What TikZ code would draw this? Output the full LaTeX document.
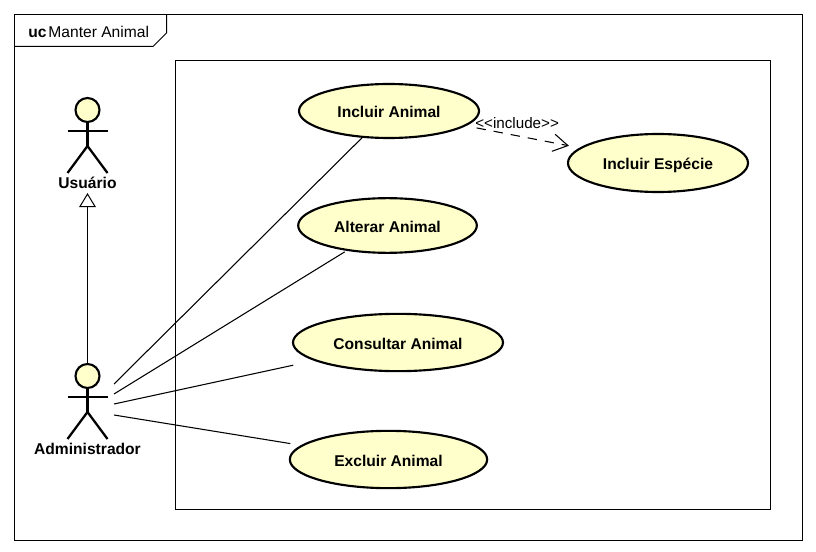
\documentclass[tikz,border=0pt]{standalone}
\usepackage{fontspec}
\setmainfont{Liberation Sans}
\usetikzlibrary{arrows.meta,shapes.geometric}
\definecolor{ucfill}{RGB}{255,255,204}
\begin{document}
\begin{tikzpicture}[
        x=0.75pt, y=-0.75pt,
        frame/.style={draw, line width=0.75pt},
        usecase/.style={draw, ellipse, fill=ucfill, line width=1.6pt, inner sep=0pt,
                        text height=10.5pt, text depth=0pt,
                        font=\bfseries\fontsize{11.7}{13}\selectfont},
        actorhead/.style={draw, circle, fill=ucfill, line width=1.6pt, inner sep=0pt, minimum size=18pt},
        actorlabel/.style={font=\bfseries\fontsize{11.7}{13}\selectfont, inner sep=0pt},
        assoc/.style={line width=0.8pt},
        incl/.style={-{Straight Barb[length=11pt, width=13pt]}, dash pattern=on 7pt off 6pt, line width=0.8pt},
        gen/.style={-{Triangle[open, length=10.5pt, width=12.5pt]}, line width=0.75pt},
        actor/.pic={
            \node[actorhead] (-head) at (0,0) {};
            \draw[line width=1.7pt] (-head.south) -- (0,36);
            \draw[line width=1.7pt] (-20,21) -- (20,21);
            \draw[line width=1.7pt] (-20,63) -- (0,36) -- (20,63);
        }
    ]
        \useasboundingbox (0,0) rectangle (816,552);

        \draw[frame] (14.5,14.5) rectangle (802.5,540.5);
        \draw[frame] (14.5,46.5) -- (153,46.5) -- (166.5,33) -- (166.5,14.5);
        \draw[frame] (175.5,60.5) rectangle (770.5,509.5);
        \node[inner sep=0pt, anchor=west, font=\fontsize{11.7}{13}\selectfont] (title) at (28,31.5)
            {\textbf{uc}\hspace{1.5pt}Manter Animal};

        \pic (usr) at (87.5,110) {actor};
        \pic (adm) at (87.5,376) {actor};
        \node[actorlabel] (usrlabel) at (87.5,183) {Usuário};
        \node[actorlabel] (admlabel) at (87.5,449) {Administrador};

        \node[usecase, minimum width=135pt, minimum height=40.5pt] (incluir)   at (389,111) {Incluir Animal};
        \node[usecase, minimum width=134pt, minimum height=41pt]   (alterar)   at (387.5,225.5) {Alterar Animal};
        \node[usecase, minimum width=157.5pt, minimum height=43pt] (consultar) at (398,342.5) {Consultar Animal};
        \node[usecase, minimum width=148pt, minimum height=43pt]   (excluir)   at (388.5,459.5) {Excluir Animal};
        \node[usecase, minimum width=135pt, minimum height=43.5pt] (especie)   at (658,163) {Incluir Espécie};

        \coordinate (adm1) at (114,384);
        \coordinate (adm2) at (114,394);
        \coordinate (adm3) at (114,404);
        \coordinate (adm4) at (114,415);

        \draw[gen, shorten >=3pt] (adm-head) -- (usrlabel);
        \draw[assoc] (adm1) -- (incluir);
        \draw[assoc, shorten >=1.5pt] (adm2) -- (alterar);
        \draw[assoc, shorten >=16pt] (adm3) -- (consultar);
        \draw[assoc, shorten >=8pt] (adm4) -- (excluir);
        \draw[incl, shorten <=8pt, shorten >=8pt] (incluir) -- node[above, pos=0.45, inner sep=0pt, yshift=5pt, font=\fontsize{11.4}{12}\selectfont] {<{}<include>{}>} (especie);
    \end{tikzpicture}
\end{document}
